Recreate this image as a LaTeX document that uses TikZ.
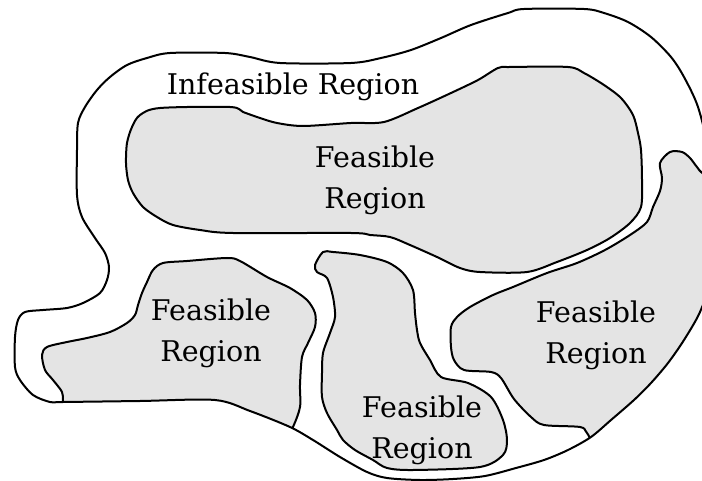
\documentclass[tikz,border=0pt]{standalone}
\usepackage{fontspec}
\setmainfont{DejaVu Serif}
\definecolor{feas}{RGB}{228,228,228}
\begin{document}
\begin{tikzpicture}[x=1pt,y=-1pt,line width=2pt,line join=round,
  region/.style={fill=feas,draw=black},
  lbl/.style={font=\fontsize{28.5}{41}\selectfont,align=center,inner sep=0pt},
  outerp/.style={insert path={plot[smooth cycle,tension=0.5] coordinates{
    (170,53) (225,53) (250,57) (280,63) (351,63) (381,58) (411,50) (441,38)
    (471,25) (508,13) (524,9) (584,9) (604,13) (628,22) (651,37) (671,57)
    (684,77) (698,107) (708,150) (714,220) (710,280) (700,312) (684,340)
    (668,363) (651,383) (634,400) (611,420) (591,437) (568,450) (544,460)
    (516,468) (485,476) (453,479) (420,480) (387,478) (367,472) (340,457)
    (313,440) (290,427) (250,411) (215,400) (140,401) (63,402) (50,402)
    (33,395) (20,380) (15,367) (15,337) (18,320) (25,312) (43,310) (67,308)
    (83,303) (100,293) (107,280) (109,267) (105,253) (95,238) (82,217)
    (77,195) (77,150) (78,123) (85,107) (97,90) (110,77) (127,65) (147,58)}}}]
\useasboundingbox (0,0) rectangle (702,481);
\clip (0,0) rectangle (702,481);
% regions sharing the outer boundary
\begin{scope}
  \clip[outerp];
  \draw[region] plot[smooth cycle,tension=0.5] coordinates{
    (163,263) (187,261) (227,258) (240,261) (267,277) (290,288) (307,300)
    (315,313) (315,327) (308,343) (302,357) (300,385) (300,407) (293,427)
    (280,452) (150,432) (64,428) (63,402) (62,392) (53,380) (45,370)
    (42,355) (47,347) (67,342) (87,338) (110,332) (127,323) (135,315)
    (138,305) (142,293) (147,282) (153,270)};
  \draw[region] plot[smooth cycle,tension=0.5] coordinates{
    (451,347) (451,327) (457,317) (470,307) (493,295) (513,287) (547,273)
    (577,263) (605,250) (630,235) (647,222) (653,207) (660,191) (662,178)
    (660,163) (670,152) (682,152) (690,158) (697,167) (705,175) (745,200)
    (745,330) (650,445) (602,452) (587,433) (580,427) (544,425) (531,417)
    (514,399) (501,378) (491,372) (464,370) (454,360)};
\end{scope}
% top feasible region
\draw[region] plot[smooth cycle,tension=0.5] coordinates{
  (160,108) (230,107) (243,112) (260,118) (277,123) (303,126) (351,123)
  (384,122) (418,108) (451,93) (478,80) (498,68) (510,67) (568,67) (584,73)
  (604,85) (621,98) (633,115) (638,133) (641,150) (642,180) (641,207)
  (630,223) (610,238) (587,250) (557,262) (527,272) (480,272) (460,268)
  (437,257) (410,245) (390,237) (370,235) (351,233) (233,233) (200,230)
  (173,225) (157,217) (143,207) (133,193) (128,180) (126,163) (127,143)
  (132,127) (140,115)};
% middle bottom feasible region
\draw[region] plot[smooth cycle,tension=0.5] coordinates{
  (323,252) (333,252) (360,255) (387,262) (403,273) (413,290) (415,313)
  (417,330) (420,343) (430,360) (441,377) (468,383) (491,397) (503,420)
  (507,440) (503,455) (480,467) (413,470) (387,468) (373,460) (355,450)
  (343,440) (337,430) (327,413) (322,397) (322,373) (323,353) (330,333)
  (335,317) (333,297) (327,278) (317,272) (315,265)};
% outer boundary
\draw[outerp];
% labels
\node[lbl,anchor=base] (inf) at (293,95) {Infeasible Region};
\node[lbl] (ftop) at (375,180) {Feasible\\Region};
\node[lbl] (fleft) at (211,333) {Feasible\\Region};
\node[lbl] (fright) at (596,335) {Feasible\\Region};
\node[lbl] (fmid) at (422,430) {Feasible\\Region};
\end{tikzpicture}
\end{document}
